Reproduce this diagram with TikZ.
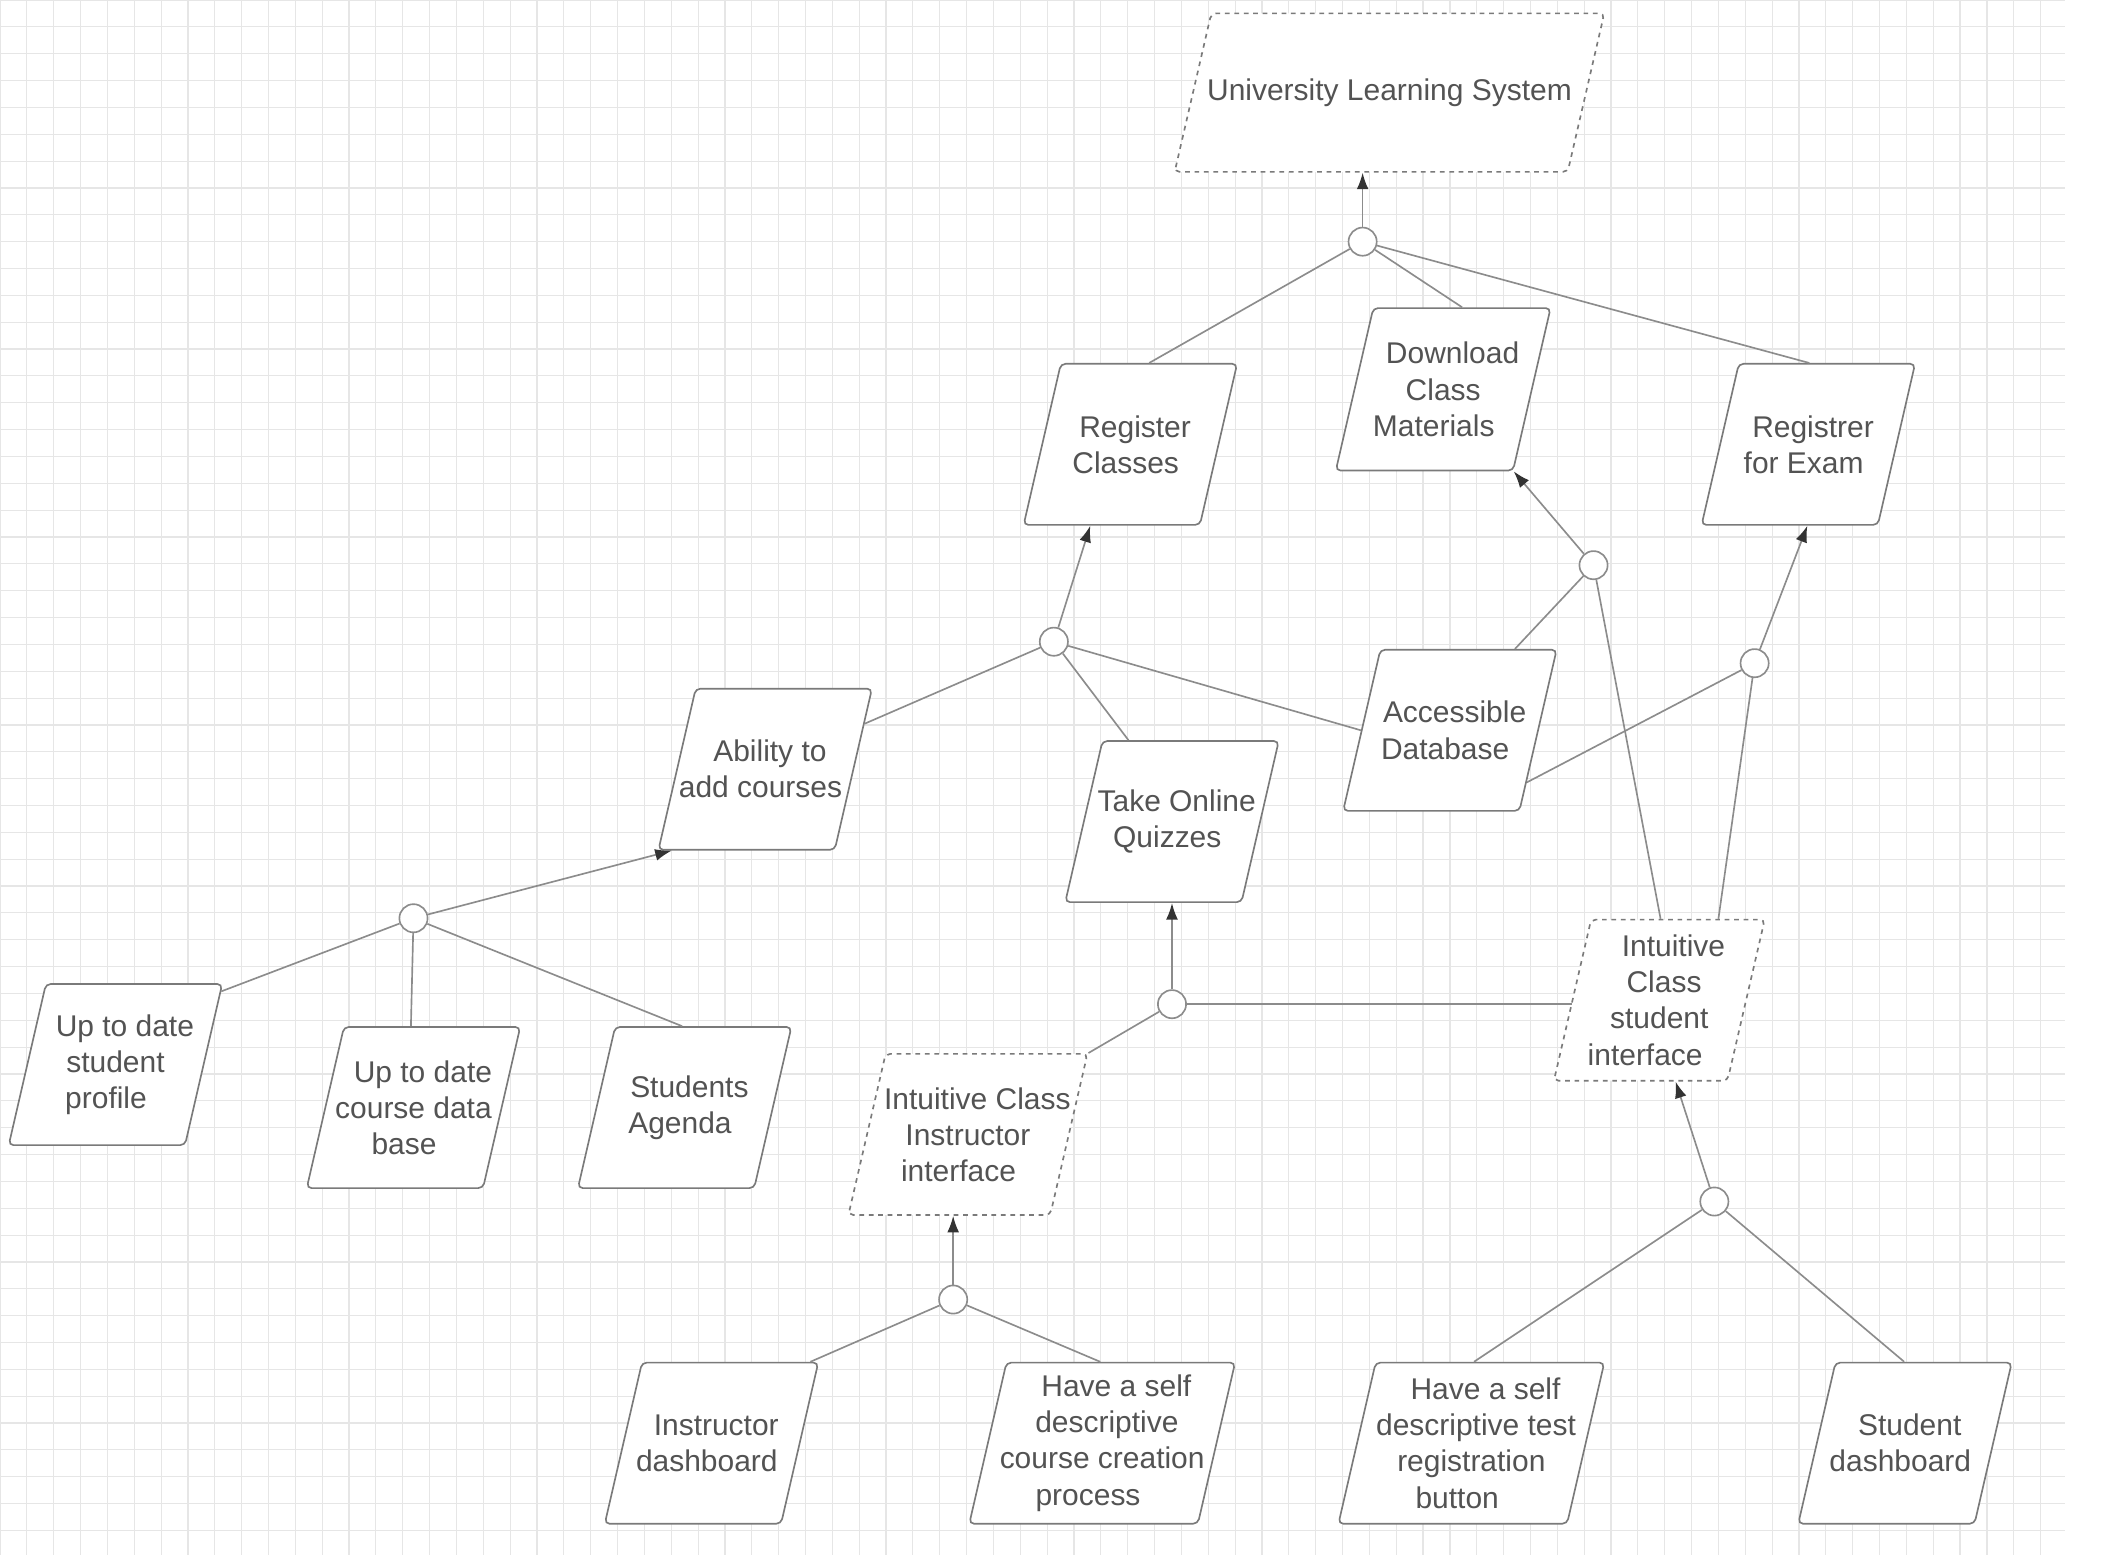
\documentclass[tikz,border=0pt]{standalone}
\usepackage{fontspec}
\usepackage{xcolor}
\usetikzlibrary{shapes.geometric}
\usetikzlibrary{arrows.meta}
\usetikzlibrary{positioning, calc}
\newfontfamily\goalfont{Liberation Sans}

\definecolor{boxgray}{HTML}{7A7A7A}
\definecolor{linegray}{HTML}{8C8C8C}
\definecolor{txtgray}{HTML}{535353}
\definecolor{tipgray}{HTML}{333333}
\definecolor{gridgray}{HTML}{E6E6E6}

% goal boxes: empty trapezium, size given by the inner seps
\tikzset{
  goal/.style={trapezium, trapezium left angle=77, trapezium right angle=103,
    draw=boxgray, fill=white, rounded corners=2pt, line width=0.7pt,
    inner xsep=1.036cm, inner ysep=1.2cm},
  softgoal/.style={goal, dash pattern=on 2pt off 2pt},
  goaltext/.style={text=txtgray, align=center,
    font=\goalfont\fontsize{12.7pt}{15.3pt}\selectfont},
  refine/.style={circle, draw=linegray, fill=white, line width=0.7pt,
    minimum size=0.42cm, inner sep=0pt},
  link/.style={draw=linegray, line width=0.7pt},
  >={Latex[length=7pt,width=5pt,color=tipgray]}
}
% lines follow the slant of the box
\newcommand\sh[1]{\hspace*{#1pt}}

\begin{document}
\begin{tikzpicture}[x=0.2mm, y=-0.2mm]
      \useasboundingbox (0,0) rectangle (1568,1158);

      % GRID
      \draw[gridgray, line width=0.5pt, step=4mm] (0,0) grid (1538,1158);

      % GOALS
      \node[softgoal, inner xsep=2.655cm, inner ysep=1.18cm,
        label={[goaltext]center:University Learning System}] (uls) at (1035,69) {};
      \node[goal, label={[goaltext]center:\sh4Register\\Classes\sh4}] (rc) at (842,331) {};
      \node[goal, inner xsep=1.041cm, inner ysep=1.21cm,
        label={[goaltext]center:\sh8Download\\Class\\Materials\sh8}] (dl) at (1075,290) {};
      \node[goal, label={[goaltext]center:\sh4Registrer\\for Exam\sh4}] (re) at (1347,331) {};
      \node[goal, label={[goaltext]center:\sh4Ability to\\add courses\sh4}] (ab) at (570,573) {};
      \node[goal, label={[goaltext]center:\sh4Take Online\\Quizzes\sh4}] (tq) at (873,612) {};
      \node[goal, label={[goaltext]center:\sh4Accessible\\Database\sh4}] (db) at (1080,544) {};
      \node[goal, label={[goaltext]center:\sh8Up to date\\student\\profile\sh8}] (pr) at (86,793) {};
      \node[goal, label={[goaltext]center:\sh8Up to date\\course data\\base\sh8}] (cd) at (308,825) {};
      \node[goal, label={[goaltext]center:\sh4Students\\Agenda\sh4}] (ag) at (510,825) {};
      \node[softgoal, inner xsep=1.226cm,
        label={[goaltext]center:\sh8Intuitive Class\\Instructor\\interface\sh8}] (ii) at (721,845) {};
      \node[softgoal, inner xsep=1.016cm,
        label={[goaltext]center:\sh{12}Intuitive\\\sh4Class\\student\sh4\\interface\sh{12}}] (si) at (1236,745) {};
      \node[goal, label={[goaltext]center:\sh4Instructor\\dashboard\sh4}] (id) at (530,1075) {};
      \node[goal, inner xsep=1.426cm,
        label={[goaltext]center:\sh{12}Have a self\\\sh4descriptive\\course creation\sh4\\process\sh{12}}] (cc) at (821,1075) {};
      \node[goal, inner xsep=1.426cm,
        label={[goaltext]center:\sh{12}Have a self\\\sh4descriptive test\\registration\sh4\\button\sh{12}}] (tr) at (1096,1075) {};
      \node[goal, label={[goaltext]center:\sh4Student\\dashboard\sh4}] (sd) at (1419,1075) {};

      % REFINEMENTS
      \node[refine] (c1) at (1015,180) {};
      \node[refine] (c2) at (785,478) {};
      \node[refine] (c3) at (1187,421) {};
      \node[refine] (c4) at (1307,494) {};
      \node[refine] (c5) at (308,684) {};
      \node[refine] (c6) at (873,748) {};
      \node[refine] (c7) at (710,968) {};
      \node[refine] (c8) at (1277,895) {};

      % LINKS
      \draw[link,->] (c1) -- (c1 |- uls.south);
      \draw[link] (c1) -- (rc.top side);
      \draw[link] (c1) -- (dl.top side);
      \draw[link] (c1) -- ($(re.top left corner)!.4!(re.top right corner)$);

      \draw[link,->] (c2) -- ($(rc.bottom left corner)!.38!(rc.bottom right corner)$);
      \draw[link] (c2) -- ($(ab.top right corner)!.22!(ab.bottom right corner)$);
      \draw[link] (c2) -- ($(tq.top left corner)!.15!(tq.top right corner)$);
      \draw[link] (c2) -- (db.left side);

      \draw[link,->] (c3) -- (dl.bottom right corner);
      \draw[link] (c3) -- ($(db.top left corner)!.76!(db.top right corner)$);
      \draw[link] (c3) -- ($(si.top left corner)!.4!(si.top right corner)$);

      \draw[link,->] (c4) -- ($(re.bottom left corner)!.6!(re.bottom right corner)$);
      \draw[link] (c4) -- ($(db.top right corner)!.82!(db.bottom right corner)$);
      \draw[link] (c4) -- ($(si.top left corner)!.73!(si.top right corner)$);

      \draw[link,->] (c5) -- ($(ab.bottom left corner)!.08!(ab.bottom right corner)$);
      \draw[link] (c5) -- ($(pr.top right corner)!.05!(pr.bottom right corner)$);
      \draw[link] (c5) -- ($(cd.top left corner)!.38!(cd.top right corner)$);
      \draw[link] (c5) -- ($(ag.top left corner)!.38!(ag.top right corner)$);

      \draw[link,->] (c6) -- (c6 |- tq.south);
      \draw[link] (c6) -- (ii.top right corner);
      \draw[link] (c6) -- (c6 -| si.left side);

      \draw[link,->] (c7) -- (c7 |- ii.south);
      \draw[link] (c7) -- ($(id.top left corner)!.95!(id.top right corner)$);
      \draw[link] (c7) -- ($(cc.top left corner)!.41!(cc.top right corner)$);

      \draw[link,->] (c8) -- ($(si.bottom left corner)!.7!(si.bottom right corner)$);
      \draw[link] (c8) -- ($(tr.top left corner)!.43!(tr.top right corner)$);
      \draw[link] (c8) -- ($(sd.top left corner)!.39!(sd.top right corner)$);

    \end{tikzpicture}
\end{document}
